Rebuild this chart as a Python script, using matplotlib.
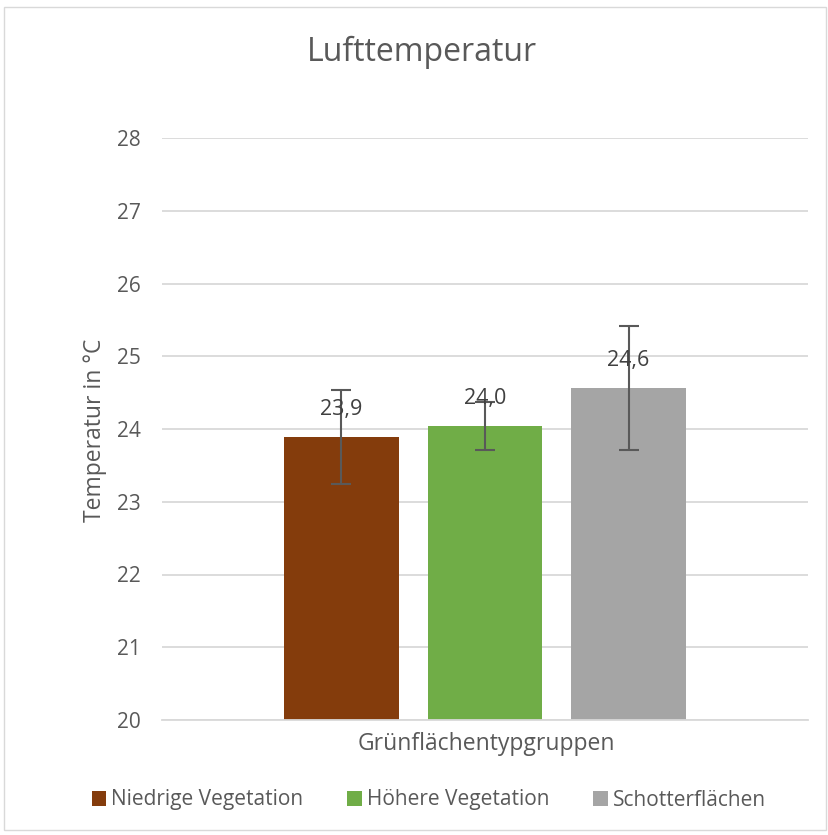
import matplotlib
matplotlib.use("Agg")
import matplotlib.pyplot as plt
from matplotlib.patches import Rectangle

# Data
categories = ["Niedrige Vegetation", "Höhere Vegetation", "Schotterflächen"]
means = [23.89, 24.04, 24.56]
errors = [0.64, 0.33, 0.85]
labels = ["23,9", "24,0", "24,6"]
colors = ["#843C0C", "#70AD47", "#A5A5A5"]
yticks = [20, 21, 22, 23, 24, 25, 26, 27, 28]

txt = "#595959"
plt.rcParams["font.family"] = ["Open Sans", "DejaVu Sans"]

W, H = 829, 835
fig = plt.figure(figsize=(W / 100, H / 100), dpi=100)

# chart border
fig.patches.append(Rectangle((4 / W, 1 - 830 / H), 822 / W, 823 / H,
                             transform=fig.transFigure, fill=False,
                             edgecolor="#d9d9d9", linewidth=1))

ax = fig.add_axes([162 / W, 1 - 720 / H, (808 - 162) / W, (720 - 138) / H])

x = [-1, 0, 1]
ax.bar(x, means, width=0.795, color=colors, zorder=2, label=categories)
ax.errorbar(x, means, yerr=errors, fmt="none", ecolor="#595959",
            elinewidth=1.5, capsize=7, capthick=1.5, zorder=3)
for xi, m, lab in zip(x, means, labels):
    ax.annotate(lab, (xi, m), xytext=(0, 20), textcoords="offset points",
                ha="center", va="center", fontsize=15.5, color="#404040", zorder=4)

ax.set_ylim(20, 28)
ax.set_xlim(-2.25, 2.25)
ax.set_yticks(yticks)
ax.set_yticklabels([str(t) for t in yticks])
ax.set_xticks([])
ax.yaxis.grid(True, color="#d9d9d9", linewidth=1.3, zorder=0)
ax.set_axisbelow(True)
for s in ["top", "right", "left"]:
    ax.spines[s].set_visible(False)
ax.spines["bottom"].set_color("#d9d9d9")
ax.spines["bottom"].set_linewidth(1.3)
ax.tick_params(axis="y", length=0, pad=15, labelsize=15, labelcolor=txt)

fig.text(95 / W, 1 - 430 / H, "Temperatur in °C", rotation=90, ha="center",
         va="center", fontsize=16.5, color=txt)
fig.text(486 / W, 1 - 744 / H, "Grünflächentypgruppen", ha="center",
         va="center", fontsize=16.5, color=txt)
fig.text(422 / W, 1 - 52 / H, "Lufttemperatur", ha="center", va="center",
         fontsize=23, color=txt)

leg = fig.legend(loc="center", bbox_to_anchor=(429 / W, 1 - 800 / H), ncol=3,
                 frameon=False, fontsize=15, handlelength=0.7, handleheight=0.7,
                 handletextpad=0.25, columnspacing=2.1)
for t in leg.get_texts():
    t.set_color(txt)

fig.savefig("out.png", dpi=100)
